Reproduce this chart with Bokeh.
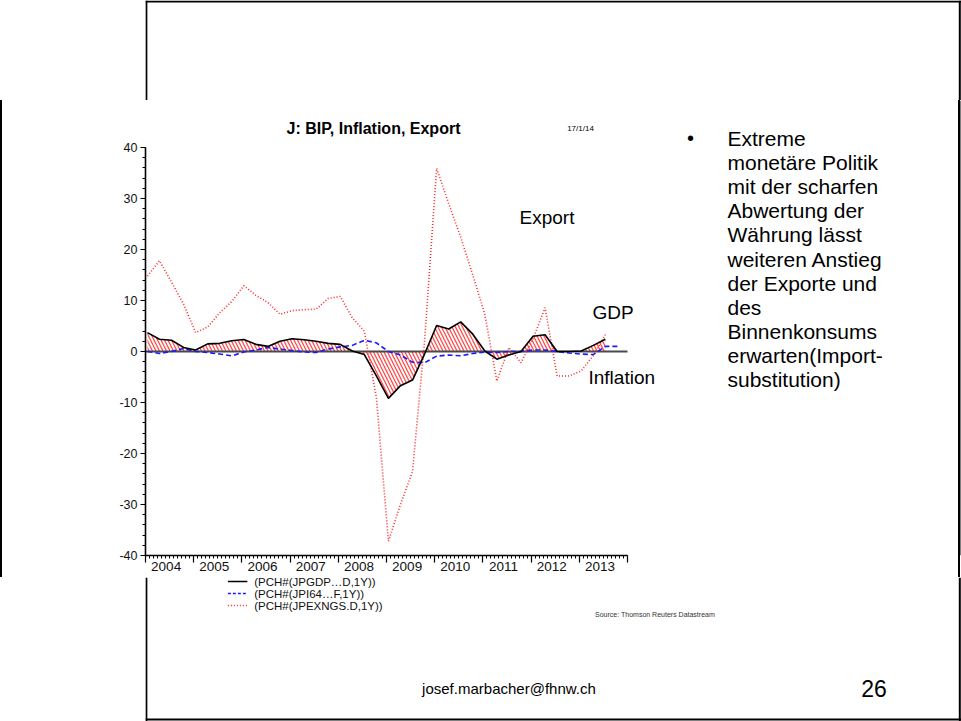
from bokeh.plotting import figure
from bokeh.layouts import column
from bokeh.models import Range1d, FixedTicker
from bokeh.core.properties import value
from bokeh.embed import file_html
from bokeh.resources import INLINE

# Quarterly observations, year-on-year % change
quarters = [f"{y}Q{q}" for y in range(2004, 2014) for q in range(1, 5)]

gdp = [3.7, 2.4, 2.2, 0.8, 0.3, 1.5, 1.6, 2.1, 2.35, 1.4,
       1.0, 2.0, 2.5, 2.3, 2.0, 1.6, 1.4, 0.1, -0.6, -4.8,
       -9.2, -6.7, -5.6, -0.5, 5.1, 4.4, 5.8, 3.4, 0.1, -1.5,
       -0.7, 0.0, 3.0, 3.3, 0.0, 0.0, 0.1, 1.2, 2.4]

inflation = [0.0, -0.4, 0.0, 0.6, 0.0, -0.2, -0.5, -0.85, -0.1, 0.3,
             0.8, 0.45, 0.2, -0.1, -0.2, 0.5, 0.9, 1.2, 2.2, 1.7,
             0.0, -0.7, -2.1, -2.2, -0.9, -0.7, -0.85, -0.4, -0.1, -0.2,
             0.0, 0.0, 0.3, 0.3, 0.0, -0.3, -0.5, -0.6, 1.0, 1.0]

exports = [14.8, 17.8, 13.6, 9.3, 3.7, 4.8, 7.6, 9.8, 12.9, 11.0,
           9.6, 7.3, 8.0, 8.2, 8.3, 10.4, 10.8, 6.6, 4.0, -9.0,
           -37.2, -30.0, -23.5, 2.0, 35.9, 29.0, 22.4, 15.0, 7.3, -5.8,
           0.8, -2.2, 2.5, 8.6, -4.8, -4.8, -3.8, -0.8, 3.3]

years = list(range(2004, 2015))
y_ticks = list(range(-40, 41, 10))

series_names = ["(PCH#(JPGDP\u2026D,1Y))", "(PCH#(JPI64\u2026F,1Y))",
                "(PCH#(JPEXNGS.D,1Y))"]

bullet_lines = ["Extreme", "monetäre Politik", "mit der scharfen",
                "Abwertung der", "Währung lässt", "weiteren Anstieg",
                "der Exporte und", "des", "Binnenkonsums",
                "erwarten(Import-", "substitution)"]


def qpos(label):
    y, q = label.split("Q")
    return int(y) + (int(q) - 1) / 4 + 0.04


x_q = [qpos(q) for q in quarters]

FONT = "Liberation Sans"
W, H = 961, 721
TOP_H = 100
FRAME_L, FRAME_B = 145, 555       # chart frame edges on the page
AXIS_B = 22                       # room below the frame for the x axis
MID_H = FRAME_B + AXIS_B - TOP_H
BOT_H = H - TOP_H - MID_H
PX_PER_YEAR, PX_PER_UNIT = 48.2, 5.1
BORDER = dict(line_color="black", line_width=2)
EDGE_L, EDGE_R = 1, 959           # centres of the page border's sides


def page_fig(w, h, x0, x1, y0, y1):
    """Helper figure whose frame is the whole canvas, in page pixels."""
    f = figure(width=w, height=h, x_range=Range1d(x0, x1),
               y_range=Range1d(y1, y0), output_backend="svg",
               toolbar_location=None, x_axis_type=None, y_axis_type=None,
               min_border=0, min_border_left=0, min_border_right=0,
               min_border_top=0, min_border_bottom=0, title=None)
    f.grid.visible = False
    f.outline_line_color = None
    f.border_fill_color = "white"
    f.background_fill_color = "white"
    return f


def text(f, s, x, y, size, align="left", bold=False, color="black", **kw):
    f.text(x=[x], y=[y], text=[s], text_font=value(FONT),
           text_font_size=size, text_align=align, text_baseline="middle",
           text_color=color, text_font_style="bold" if bold else "normal",
           **kw)


# ---- top strip (page border only)
top = page_fig(W, TOP_H, 0, W, 0, TOP_H)
top.segment(x0=[0, EDGE_L, EDGE_R], y0=[1, 0, 0], x1=[W, EDGE_L, EDGE_R],
            y1=[1, TOP_H, TOP_H], **BORDER)

# ---- chart band, full page width; fills are transparent so that the
# border sides painted behind it stay visible
x_end = 2004 + (W - FRAME_L) / PX_PER_YEAR
y_top = -40 + (FRAME_B - TOP_H) / PX_PER_UNIT
p = figure(width=W, height=MID_H, x_range=Range1d(2004, x_end),
           y_range=Range1d(-40, y_top), output_backend="svg",
           toolbar_location=None, title=None,
           min_border_left=FRAME_L, min_border_right=0,
           min_border_top=0, min_border_bottom=AXIS_B)
p.grid.visible = False
p.outline_line_color = None
p.background_fill_color = None
p.border_fill_color = None
p.styles = {
    "background": ("linear-gradient(to right, "
                   "#000 0px, #000 2px, transparent 2px, "
                   "transparent 958px, #000 958px, #000 960px, "
                   "transparent 960px)"),
}
p.extra_x_ranges = {"px": Range1d(FRAME_L, W)}
p.extra_y_ranges = {"px": Range1d(FRAME_B, TOP_H)}

xa = p.xaxis[0]
xa.bounds = (years[0], years[-1])
xa.ticker = FixedTicker(ticks=years,
                        minor_ticks=[2004 + k / 12 for k in range(121)])
# year names sit between the year ticks
xa.major_label_overrides = {y: ("\u00a0" * 11 + str(y)) if y < years[-1]
                            else "" for y in years}
xa.major_label_text_font = FONT
xa.major_label_text_font_size = "13.5px"
xa.major_label_text_color = "#111111"
xa.major_label_standoff = -4
xa.major_tick_out, xa.major_tick_in = 7, 0
xa.minor_tick_out, xa.minor_tick_in = 3, 0
xa.axis_line_width = 1.6
xa.major_tick_line_width = 1.2

ya = p.yaxis[0]
ya.bounds = (-40, 40)
ya.ticker = FixedTicker(ticks=y_ticks, minor_ticks=list(range(-40, 41, 2)))
ya.major_label_overrides = {v: str(v) for v in y_ticks}
ya.major_label_text_font = FONT
ya.major_label_text_font_size = "12.5px"
ya.major_label_text_color = "#111111"
ya.major_label_standoff = 3
ya.major_tick_out, ya.major_tick_in = 5, 0
ya.minor_tick_out, ya.minor_tick_in = 3, 0
ya.axis_line_width = 1.6
ya.major_tick_line_width = 1.2

# hatched area between GDP and zero
p.varea(x=x_q[:len(gdp)], y1=0, y2=gdp, fill_alpha=0,
        hatch_pattern="\\", hatch_color="#ff3b3b", hatch_scale=7,
        hatch_weight=1.3, hatch_alpha=0.9)
p.segment(x0=[years[0]], y0=[0], x1=[years[-1]], y1=[0],
          line_color="#4a4a4a", line_width=2.2)

p.line(x_q[:len(exports)], exports, line_color="#ff2a2a",
       line_width=1.6, line_dash="1 2")
p.line(x_q[:len(inflation)], inflation, line_color="#1a1aff",
       line_width=1.6, line_dash="5 3")
p.line(x_q[:len(gdp)], gdp, line_color="black", line_width=1.6)

PX = dict(x_range_name="px", y_range_name="px")
text(p, "J: BIP, Inflation, Export", 373, 128, "16px", align="center",
     bold=True, **PX)
text(p, "17/1/14", 580, 128, "8px", align="center", **PX)
text(p, "Export", 519, 217, "19px", **PX)
text(p, "GDP", 592, 312, "19px", **PX)
text(p, "Inflation", 588, 377, "19px", **PX)
text(p, "\u2022", 690, 137, "20px", align="center", **PX)
for k, line in enumerate(bullet_lines):
    text(p, line, 727, 138 + 24.1 * k, "21px", **PX)
# right side of the page border where it crosses the chart frame
p.segment(x0=[EDGE_R], y0=[TOP_H], x1=[EDGE_R], y1=[FRAME_B], **BORDER, **PX)

# ---- bottom strip: legend, source, footer
bot = page_fig(W, BOT_H, 0, W, H - BOT_H, H)
styles = [dict(line_color="black", line_width=1.4),
          dict(line_color="#1a1aff", line_width=1.4, line_dash="3 2"),
          dict(line_color="#ff2a2a", line_width=1.4, line_dash="1 2")]
for k, (name, st) in enumerate(zip(series_names, styles)):
    yy = 581 + 12 * k
    bot.line([97, 120], [yy, yy], **st)
    text(bot, name, 128, yy, "11.5px", color="#111111")
text(bot, "Source: Thomson Reuters Datastream", 600, 614, "7px",
     align="center", color="#333333")
text(bot, "josef.marbacher@fhnw.ch", 428, 688, "15px", align="center")
text(bot, "26", 858, 688, "23px", align="center")
bot.segment(x0=[EDGE_L, EDGE_R, 0], y0=[H - BOT_H, H - BOT_H, 719],
            x1=[EDGE_L, EDGE_R, W], y1=[H, H, 719], **BORDER)

page = column(top, p, bot, spacing=0, margin=0)
open("out.html", "w").write(file_html(page, INLINE))
